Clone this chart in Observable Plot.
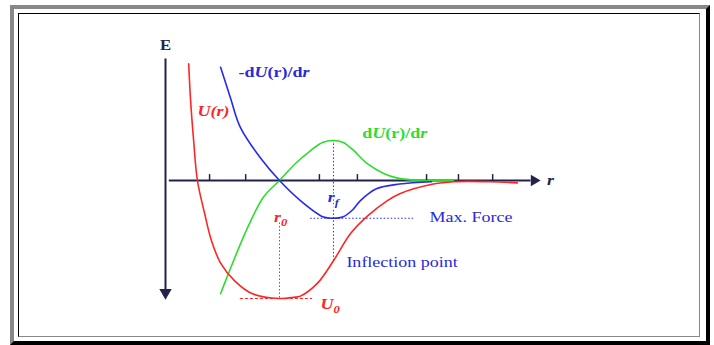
<!DOCTYPE html>
<html><head><meta charset="utf-8">
<script src="https://cdn.jsdelivr.net/npm/d3@7"></script>
<script src="https://cdn.jsdelivr.net/npm/@observablehq/plot@0.6"></script>
<style>
html,body{margin:0;padding:0;background:#fff;width:714px;height:345px;overflow:hidden;}
#chart{position:absolute;left:0;top:0;}
.outer{position:absolute;left:10px;top:5px;width:692px;height:332px;border-style:solid;border-width:4px;border-color:#888 #000 #000 #888;pointer-events:none;}
.inner{position:absolute;left:18px;top:13px;width:680px;height:322px;border-style:solid;border-width:1px;border-color:#000 #888 #888 #000;pointer-events:none;}
</style></head>
<body>
<div id="chart"></div>
<div class="outer"></div>
<div class="inner"></div>
<script>
// Potential energy U(r)
const uR = [0.61, 0.66, 0.74, 0.84, 1.03, 1.21, 1.45, 1.82, 2.29, 3.00, 3.37, 3.55, 4.00, 4.42, 4.87, 5.32, 5.84, 6.18, 7.05, 7.58, 8.55, 9.26];
const uE = [0.99, 0.68, 0.34, 0.00, -0.28, -0.51, -0.70, -0.85, -0.96, -1.00, -0.99, -0.98, -0.87, -0.68, -0.45, -0.30, -0.17, -0.11, -0.03, -0.01, -0.01, -0.02];
// Force -dU(r)/dr
const fR = [1.45, 1.71, 1.97, 2.50, 3.00, 3.55, 4.16, 4.42, 4.66, 4.92, 5.13, 5.55, 6.16, 7.00];
const fE = [0.96, 0.70, 0.45, 0.19, 0.00, -0.17, -0.31, -0.32, -0.31, -0.25, -0.17, -0.07, -0.03, -0.01];
// dU(r)/dr
const gR = [1.45, 1.63, 2.16, 2.58, 3.00, 3.42, 3.82, 4.13, 4.42, 4.68, 4.92, 5.32, 5.74, 6.11, 6.71, 7.58];
const gE = [-0.96, -0.81, -0.40, -0.14, 0.00, 0.144, 0.254, 0.322, 0.339, 0.322, 0.263, 0.14, 0.06, 0.02, 0.00, 0.00];
// x-axis tick positions
const tickR = [1.16, 2.11, 4.05, 5.05, 6.87, 7.71, 8.61];
// key values
const r0 = 3.00, rf = 4.42, U0 = -1.00, Fmax = -0.32, Einfl = -0.68;
// labels
const axisLabels = ["E", "r"];
const curveLabels = ["-dU(r)/dr", "U(r)", "dU(r)/dr"];
const pointLabels = ["rf", "r0", "Max. Force", "Inflection point", "U0"];

const RED = "#ff2525", BLUE = "#2828f0", GREEN = "#2edc2e", AX = "#23234a", TBLUE = "#2a2ad8";
const pts = (R, E) => R.map((r, i) => ({r, E: E[i]}));
const SERIF = "Liberation Serif, Times New Roman, serif";

const plot = Plot.plot({
  width: 714, height: 345, margin: 0,
  x: {domain: [-165/38, 549/38], axis: null},
  y: {domain: [-165/118, 180/118], axis: null},
  marks: [
    // axes
    Plot.ruleX([0], {y1: -0.93, y2: 1.03, stroke: AX, strokeWidth: 2}),
    Plot.ruleY([0], {x1: 0.1, x2: 9.62, stroke: AX, strokeWidth: 2}),
    Plot.dot([{r: 0, E: -0.949}], {x: "r", y: "E", symbol: "triangle", r: 4.6, fill: AX, stroke: null, rotate: 180}),
    Plot.dot([{r: 9.70, E: 0}], {x: "r", y: "E", symbol: "triangle", r: 4.2, fill: AX, stroke: null, rotate: 90}),
    Plot.ruleX(tickR, {y1: 0, y2: 0.05, stroke: AX, strokeWidth: 1.5}),
    // guides
    Plot.ruleX([r0], {y1: -0.36, y2: U0, stroke: RED, strokeWidth: 1, strokeDasharray: "1.5,2"}),
    Plot.ruleY([U0], {x1: 1.97, x2: 3.87, stroke: RED, strokeWidth: 1.2, strokeDasharray: "3,2"}),
    Plot.ruleX([rf], {y1: 0.34, y2: Einfl, stroke: BLUE, strokeWidth: 1, strokeDasharray: "1.5,2"}),
    Plot.ruleY([Fmax], {x1: 3.82, x2: 6.53, stroke: BLUE, strokeWidth: 1, strokeDasharray: "1.5,2"}),
    // curves
    Plot.line(pts(gR, gE), {x: "r", y: "E", stroke: GREEN, strokeWidth: 1.6, curve: "catmull-rom"}),
    Plot.line(pts(fR, fE), {x: "r", y: "E", stroke: BLUE, strokeWidth: 1.6, curve: "catmull-rom"}),
    Plot.line(pts(uR, uE), {x: "r", y: "E", stroke: RED, strokeWidth: 1.6, curve: "catmull-rom"}),
    // labels
    Plot.text([axisLabels[0]], {x: 0, y: 1.14, text: d => d, fill: AX, fontSize: 14, fontWeight: "bold", fontFamily: SERIF}),
    Plot.text([axisLabels[1]], {x: 10.13, y: 0, text: d => d, fill: AX, fontSize: 15, fontWeight: "bold", fontStyle: "italic", fontFamily: SERIF}),
    Plot.text([curveLabels[0]], {x: 1.92, y: 0.915, text: d => d, fill: TBLUE, fontSize: 15, fontWeight: "bold", textAnchor: "start", fontFamily: SERIF}),
    Plot.text([curveLabels[1]], {x: 0.84, y: 0.59, text: d => d, fill: RED, fontSize: 15, fontWeight: "bold", fontStyle: "italic", textAnchor: "start", fontFamily: SERIF}),
    Plot.text([curveLabels[2]], {x: 5.18, y: 0.40, text: d => d, fill: GREEN, fontSize: 15, fontWeight: "bold", textAnchor: "start", fontFamily: SERIF}),
    Plot.text([pointLabels[0]], {x: rf, y: -0.144, text: d => d, fill: TBLUE, fontSize: 15, fontWeight: "bold", fontStyle: "italic", fontFamily: SERIF, stroke: "white", strokeWidth: 3}),
    Plot.text([pointLabels[1]], {x: 3.03, y: -0.31, text: d => d, fill: RED, fontSize: 15, fontWeight: "bold", fontStyle: "italic", fontFamily: SERIF}),
    Plot.text([pointLabels[2]], {x: 6.95, y: -0.314, text: d => d, fill: TBLUE, fontSize: 15, textAnchor: "start", fontFamily: SERIF}),
    Plot.text([pointLabels[3]], {x: 4.76, y: -0.69, text: d => d, fill: TBLUE, fontSize: 15, textAnchor: "start", fontFamily: SERIF}),
    Plot.text([pointLabels[4]], {x: 4.08, y: -1.05, text: d => d, fill: RED, fontSize: 15, fontWeight: "bold", fontStyle: "italic", textAnchor: "start", fontFamily: SERIF})
  ]
});
document.getElementById("chart").appendChild(plot);

// rich text: italics and subscripts
const rich = {
  "-dU(r)/dr": [["-d", ""], ["U", "i"], ["(r)/d", ""], ["r", "i"]],
  "dU(r)/dr": [["d", ""], ["U", "i"], ["(r)/d", ""], ["r", "i"]],
  "rf": [["r", ""], ["f", "sub"]],
  "r0": [["r", ""], ["0", "sub"]],
  "U0": [["U", ""], ["0", "sub"]]
};
plot.querySelectorAll("text").forEach(t => {
  const parts = rich[t.textContent];
  if (parts) {
    t.textContent = "";
    parts.forEach(([s, k]) => {
      const ts = document.createElementNS("http://www.w3.org/2000/svg", "tspan");
      ts.textContent = s;
      if (k === "i") ts.setAttribute("font-style", "italic");
      if (k === "sub") { ts.setAttribute("font-size", "70%"); ts.setAttribute("dy", "0.35em"); }
      t.appendChild(ts);
    });
  }
  const w = t.getComputedTextLength();
  t.setAttribute("textLength", (w * 1.2).toFixed(1));
  t.setAttribute("lengthAdjust", "spacingAndGlyphs");
});
</script>
</body></html>
